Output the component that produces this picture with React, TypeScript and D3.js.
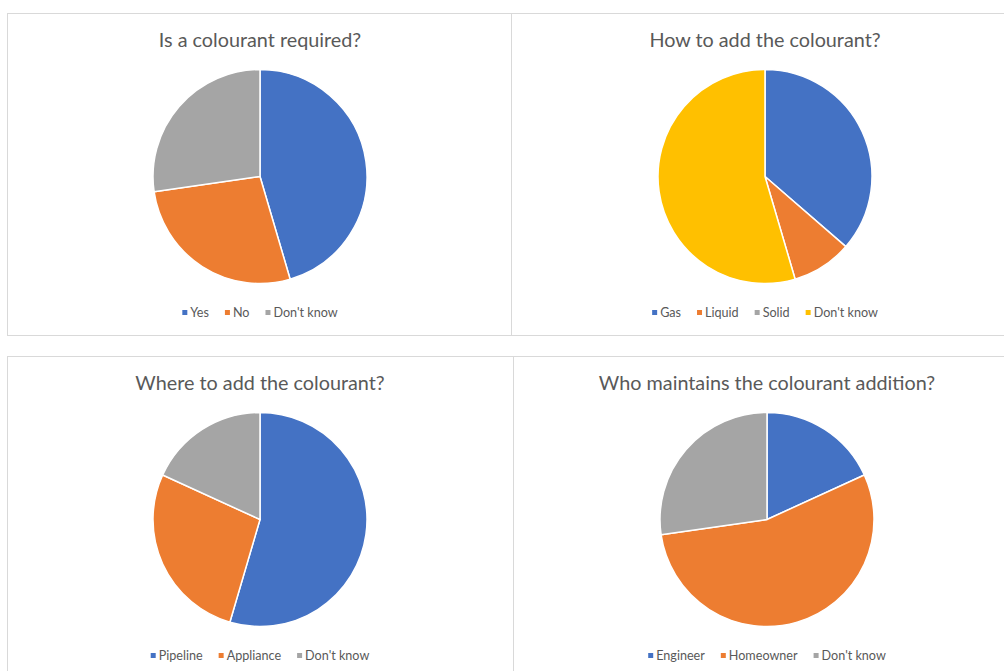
import React, { useEffect, useRef } from "react";
import * as d3 from "d3";

const titles = [
  "Is a colourant required?",
  "How to add the colourant?",
  "Where to add the colourant?",
  "Who maintains the colourant addition?",
];

const labels1 = ["Yes", "No", "Don't know"];
const values1 = [10, 6, 6];
const labels2 = ["Gas", "Liquid", "Solid", "Don't know"];
const values2 = [8, 2, 0, 12];
const labels3 = ["Pipeline", "Appliance", "Don't know"];
const values3 = [12, 6, 4];
const labels4 = ["Engineer", "Homeowner", "Don't know"];
const values4 = [4, 12, 6];

const colors3 = ["#4472C4", "#ED7D31", "#A5A5A5"];
const colors4 = ["#4472C4", "#ED7D31", "#A5A5A5", "#FFC000"];

const FONT = "Lato, 'Open Sans', sans-serif";

export default function App() {
  const ref = useRef<SVGSVGElement>(null);

  useEffect(() => {
    const svg = d3.select(ref.current);
    svg.selectAll("*").remove();

    const panels = [
      { x: 7, y: 13, w: 504, h: 322, cx: 260, labels: labels1, values: values1, colors: colors3 },
      { x: 511, y: 13, w: 500, h: 322, cx: 765, labels: labels2, values: values2, colors: colors4 },
      { x: 7, y: 356, w: 506, h: 330, cx: 260, labels: labels3, values: values3, colors: colors3 },
      { x: 513, y: 356, w: 500, h: 330, cx: 767, labels: labels4, values: values4, colors: colors3 },
    ];

    panels.forEach((p, i) => {
      const g = svg.append("g");
      g.append("rect")
        .attr("x", p.x + 0.5)
        .attr("y", p.y + 0.5)
        .attr("width", p.w)
        .attr("height", p.h)
        .attr("fill", "#fff")
        .attr("stroke", "#d9d9d9")
        .attr("stroke-width", 1);

      g.append("text")
        .attr("x", p.cx)
        .attr("y", p.y + 34)
        .attr("text-anchor", "middle")
        .attr("font-family", FONT)
        .attr("font-size", 19.8)
        .attr("fill", "#595959")
        .text(titles[i]);

      const cy = p.y + 163.5;
      const r = 107;
      const pie = d3.pie<number>().sort(null).value((d) => d);
      const arc = d3.arc<d3.PieArcDatum<number>>().innerRadius(0).outerRadius(r);
      const pg = g.append("g").attr("transform", `translate(${p.cx},${cy})`);
      pg.selectAll("path")
        .data(pie(p.values).filter((d) => d.value > 0))
        .enter()
        .append("path")
        .attr("d", arc)
        .attr("fill", (d) => p.colors[d.index])
        .attr("stroke", "#fff")
        .attr("stroke-width", 1.5)
        .attr("stroke-linejoin", "round");

      // legend
      const lg = g.append("g");
      const items = lg.selectAll("g.item").data(p.labels).enter().append("g");
      items
        .append("rect")
        .attr("width", 5)
        .attr("height", 5)
        .attr("y", -7)
        .attr("fill", (_, j) => p.colors[j]);
      const texts = items
        .append("text")
        .attr("x", 8)
        .attr("y", 0)
        .attr("font-family", FONT)
        .attr("font-size", 12.6)
        .attr("fill", "#595959")
        .text((d) => d);
      const widths: number[] = [];
      texts.each(function () {
        widths.push((this as SVGTextElement).getComputedTextLength() + 8);
      });
      const gap = 16;
      const total = d3.sum(widths) + gap * (widths.length - 1);
      let x0 = p.cx - total / 2;
      items.attr("transform", (_, j) => {
        const t = `translate(${x0},${p.y + 304})`;
        x0 += widths[j] + gap;
        return t;
      });
    });
  }, []);

  return (
    <svg
      ref={ref}
      width={1004}
      height={671}
      style={{ position: "absolute", left: 0, top: 0, background: "#fff" }}
    />
  );
}
